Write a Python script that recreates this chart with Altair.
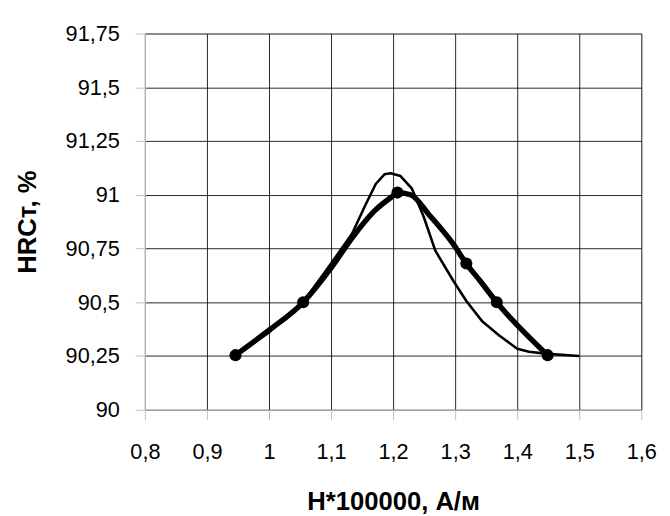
import altair as alt
import pandas as pd

# Measured points (markers)
mark_x = [0.946, 1.055, 1.207, 1.318, 1.367, 1.449]
mark_y = [90.254, 90.50, 91.01, 90.68, 90.50, 90.254]

# Thick curve through the markers
thick_x = [0.946, 1.000, 1.055, 1.100, 1.134, 1.170, 1.200, 1.207, 1.228, 1.260, 1.297, 1.318, 1.340, 1.367, 1.449]
thick_y = [90.254, 90.370, 90.500, 90.660, 90.800, 90.925, 90.995, 91.010, 91.000, 90.900, 90.770, 90.680, 90.600, 90.500, 90.254]

# Thin curve
thin_x = [0.946, 1.000, 1.055, 1.100, 1.134, 1.155, 1.172, 1.186, 1.196, 1.212, 1.230, 1.249, 1.268, 1.297, 1.318, 1.344, 1.371, 1.400, 1.419, 1.449, 1.500]
thin_y = [90.254, 90.360, 90.500, 90.680, 90.820, 90.950, 91.050, 91.095, 91.100, 91.087, 91.030, 90.900, 90.740, 90.600, 90.506, 90.410, 90.345, 90.284, 90.270, 90.260, 90.250]

x_ticks = [0.8, 0.9, 1.0, 1.1, 1.2, 1.3, 1.4, 1.5, 1.6]
y_ticks = [90.0, 90.25, 90.5, 90.75, 91.0, 91.25, 91.5, 91.75]

marks_df = pd.DataFrame({"x": mark_x, "y": mark_y})
thick_df = pd.DataFrame({"x": thick_x, "y": thick_y, "o": range(len(thick_x))})
thin_df = pd.DataFrame({"x": thin_x, "y": thin_y, "o": range(len(thin_x))})

FONT = "Liberation Sans"
label_expr = "replace(format(datum.value, '.2~f'), '.', ',')"

xs = alt.Scale(domain=[0.8, 1.6], nice=False, zero=False)
ys = alt.Scale(domain=[90, 91.75], nice=False, zero=False)

common = dict(grid=True, gridColor="#000000", gridWidth=1, gridOpacity=0.85,
              domainColor="#c0c0c0", tickColor="#c0c0c0", tickSize=10,
              labelFont=FONT, labelFontSize=22, labelColor="#000000",
              titleFont=FONT, titleFontSize=26, titleFontWeight="bold", titleColor="#000000",
              labelFlush=False)

x_axis = alt.Axis(values=x_ticks, labelExpr=label_expr, title="H*100000, А/м",
                  labelPadding=23, titlePadding=26, **common)
y_axis = alt.Axis(values=y_ticks, labelExpr=label_expr, title="HRCт, %",
                  labelPadding=16, titlePadding=25, **common)

thin = alt.Chart(thin_df).mark_line(color="#000000", strokeWidth=2.6, strokeJoin="round").encode(
    x=alt.X("x:Q", scale=xs, axis=x_axis),
    y=alt.Y("y:Q", scale=ys, axis=y_axis),
    order="o:Q",
)
thick = alt.Chart(thick_df).mark_line(color="#000000", strokeWidth=5.5, strokeJoin="round",
                                      interpolate="monotone").encode(
    x=alt.X("x:Q", scale=xs),
    y=alt.Y("y:Q", scale=ys),
    order="o:Q",
)
pts = alt.Chart(marks_df).mark_point(filled=True, color="#000000", size=150, opacity=1).encode(
    x=alt.X("x:Q", scale=xs),
    y=alt.Y("y:Q", scale=ys),
)

chart = alt.layer(thin, thick, pts).properties(
    width=504, height=382,
    padding={"left": 6, "top": 11, "right": 5, "bottom": 0},
).configure_view(stroke=None).configure(background="#ffffff")

chart.save("out.html", embed_options={"renderer": "svg", "actions": False})
